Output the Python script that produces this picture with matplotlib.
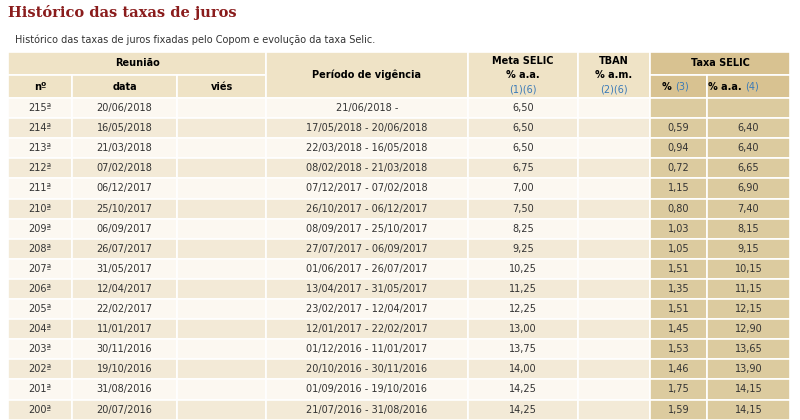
import matplotlib.pyplot as plt
from matplotlib.patches import Rectangle

# table data
reuniao = ["215ª", "214ª", "213ª", "212ª", "211ª", "210ª", "209ª", "208ª",
           "207ª", "206ª", "205ª", "204ª", "203ª", "202ª", "201ª", "200ª"]
datas = ["20/06/2018", "16/05/2018", "21/03/2018", "07/02/2018", "06/12/2017",
         "25/10/2017", "06/09/2017", "26/07/2017", "31/05/2017", "12/04/2017",
         "22/02/2017", "11/01/2017", "30/11/2016", "19/10/2016", "31/08/2016",
         "20/07/2016"]
periodos = ["21/06/2018 -", "17/05/2018 - 20/06/2018", "22/03/2018 - 16/05/2018",
            "08/02/2018 - 21/03/2018", "07/12/2017 - 07/02/2018",
            "26/10/2017 - 06/12/2017", "08/09/2017 - 25/10/2017",
            "27/07/2017 - 06/09/2017", "01/06/2017 - 26/07/2017",
            "13/04/2017 - 31/05/2017", "23/02/2017 - 12/04/2017",
            "12/01/2017 - 22/02/2017", "01/12/2016 - 11/01/2017",
            "20/10/2016 - 30/11/2016", "01/09/2016 - 19/10/2016",
            "21/07/2016 - 31/08/2016"]
meta_selic = ["6,50", "6,50", "6,50", "6,75", "7,00", "7,50", "8,25", "9,25",
              "10,25", "11,25", "12,25", "13,00", "13,75", "14,00", "14,25", "14,25"]
taxa_pct = ["", "0,59", "0,94", "0,72", "1,15", "0,80", "1,03", "1,05",
            "1,51", "1,35", "1,51", "1,45", "1,53", "1,46", "1,75", "1,59"]
taxa_aa = ["", "6,40", "6,40", "6,65", "6,90", "7,40", "8,15", "9,15",
           "10,15", "11,15", "12,15", "12,90", "13,65", "13,90", "14,15", "14,15"]

W, H = 800, 420
fig = plt.figure(figsize=(8, 4.2), dpi=100)
ax = fig.add_axes([0, 0, 1, 1])
ax.set_xlim(0, W)
ax.set_ylim(H, 0)
ax.axis("off")

cols = [8, 72, 177, 266, 468, 578, 650, 707, 790]
head_bg = "#efe3c6"
taxa_head = "#d8c291"
taxa_cell = "#dccb9f"
row_bg = ["#fcf8f1", "#f3ead7"]
line = "white"
blue = "#3a7ab8"
fs = 7.0

def cell(x0, x1, y0, y1, color):
    ax.add_patch(Rectangle((x0, y0), x1 - x0, y1 - y0, facecolor=color,
                           edgecolor=line, linewidth=1.2))

ax.text(8, 13, "Histórico das taxas de juros", fontsize=10.5, fontweight="bold",
        family="DejaVu Serif", color="#8a1c1c", va="center")
ax.text(15, 40, "Histórico das taxas de juros fixadas pelo Copom e evolução da taxa Selic.",
        fontsize=fs, color="#333333", va="center")

# header
y0, ym, y1 = 52, 75, 98
cell(cols[0], cols[3], y0, ym, head_bg)
ax.text((cols[0] + cols[3]) / 2, (y0 + ym) / 2, "Reunião", ha="center", va="center",
        fontsize=fs, fontweight="bold")
for i, lab in enumerate(["nº", "data", "viés"]):
    cell(cols[i], cols[i + 1], ym, y1, head_bg)
    ax.text((cols[i] + cols[i + 1]) / 2, (ym + y1) / 2, lab, ha="center",
            va="center", fontsize=fs, fontweight="bold")
cell(cols[3], cols[4], y0, y1, head_bg)
ax.text((cols[3] + cols[4]) / 2, (y0 + y1) / 2, "Período de vigência", ha="center",
        va="center", fontsize=fs, fontweight="bold")
for i, (l1, l2, l3) in zip([4, 5], [("Meta SELIC", "% a.a.", "(1)(6)"),
                                     ("TBAN", "% a.m.", "(2)(6)")]):
    cell(cols[i], cols[i + 1], y0, y1, head_bg)
    xc = (cols[i] + cols[i + 1]) / 2
    ax.text(xc, 61, l1, ha="center", va="center", fontsize=fs, fontweight="bold")
    ax.text(xc, 75, l2, ha="center", va="center", fontsize=fs, fontweight="bold")
    ax.text(xc, 89, l3, ha="center", va="center", fontsize=fs, color=blue)
cell(cols[6], cols[8], y0, ym, taxa_head)
ax.text((cols[6] + cols[8]) / 2, (y0 + ym) / 2, "Taxa SELIC", ha="center",
        va="center", fontsize=fs, fontweight="bold")
for i, (lab, ref) in zip([6, 7], [("%", "(3)"), ("% a.a.", "(4)")]):
    cell(cols[i], cols[i + 1], ym, y1, taxa_head)
    xc = (cols[i] + cols[i + 1]) / 2
    ax.text(xc - 3, (ym + y1) / 2, lab + " ", ha="right", va="center",
            fontsize=fs, fontweight="bold")
    ax.text(xc - 3, (ym + y1) / 2, ref, ha="left", va="center", fontsize=fs, color=blue)

# body
rh = 20.1
for r in range(len(reuniao)):
    ya = y1 + r * rh
    yb = ya + rh
    bg = row_bg[r % 2]
    vals = [reuniao[r], datas[r], "", periodos[r], meta_selic[r], "",
            taxa_pct[r], taxa_aa[r]]
    for c in range(8):
        cell(cols[c], cols[c + 1], ya, yb, taxa_cell if c >= 6 else bg)
        if vals[c]:
            ax.text((cols[c] + cols[c + 1]) / 2, (ya + yb) / 2, vals[c],
                    ha="center", va="center", fontsize=fs, color="#333333")

fig.savefig("out.png", dpi=100)
